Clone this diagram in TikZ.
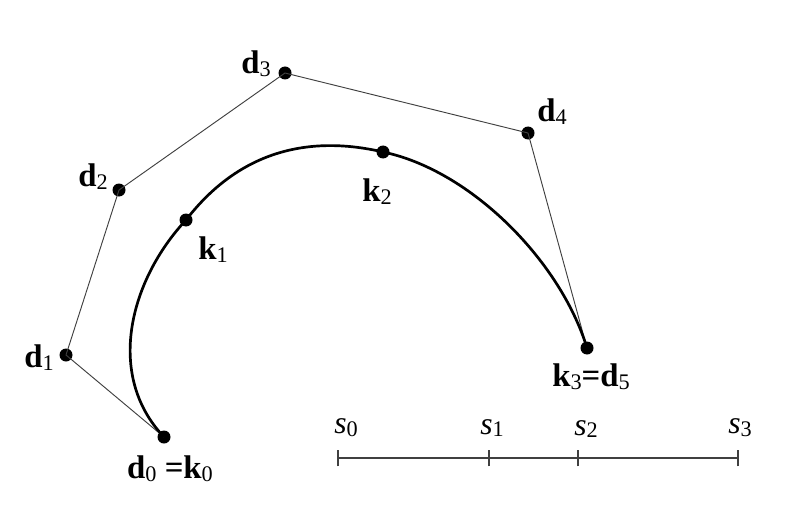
\documentclass[tikz,border=0pt]{standalone}
\usepackage{fontspec}
\setmainfont{Liberation Serif}
\usetikzlibrary{positioning}
\tikzset{
  ctrl_pt/.style={circle, fill=black, inner sep=0pt, minimum size=0.39cm},
  ctrl_poly/.style={-, draw=black!75, line width=0.8pt},
  spline/.style={-, draw=black, line width=2.3pt},
  scale_line/.style={-, draw=black!75, line width=1.1pt},
  pt_label/.style={font=\fontsize{28}{32}\selectfont\bfseries, inner sep=0pt},
  par_label/.style={font=\fontsize{27}{31}\selectfont, inner sep=0pt}
}
\newcommand{\lbl}[2]{#1\raisebox{-0.2ex}{\mdseries\upshape\fontsize{19}{22}\selectfont #2}}

\begin{document}
\begin{tikzpicture}[x=0.03cm, y=-0.03cm]
  \useasboundingbox (0,0) rectangle (791,508);

  % --- 1. Control points d0..d5 (d0 = k0, d5 = k3) ---
  \node[ctrl_pt] (d0) at (164, 437) {};
  \node[ctrl_pt] (d1) at (66, 355) {};
  \node[ctrl_pt] (d2) at (119, 190) {};
  \node[ctrl_pt] (d3) at (285, 73) {};
  \node[ctrl_pt] (d4) at (528, 133) {};
  \node[ctrl_pt] (d5) at (587, 348) {};

  % --- 2. Inner knots on the curve ---
  \node[ctrl_pt] (k1) at (186, 220) {};
  \node[ctrl_pt] (k2) at (383, 152) {};

  % --- 3. Control polygon (thin) ---
  \draw[ctrl_poly] (d0.center) -- (d1.center) -- (d2.center) -- (d3.center)
    -- (d4.center) -- (d5.center);

  % --- 4. The spline itself (thick) ---
  \draw[spline] (d0.center) .. controls (105, 375) and (130, 280) .. (k1.center)
    .. controls (240, 150) and (310, 135) .. (k2.center)
    .. controls (470, 170) and (560, 260) .. (d5.center);

  % --- 5. Point labels ---
  \node[pt_label] (ld0) at (170, 469) {\lbl{d}{0} =\lbl{k}{0}};
  \node[pt_label] (ld1) at (39, 358) {\lbl{d}{1}};
  \node[pt_label] (ld2) at (93, 177) {\lbl{d}{2}};
  \node[pt_label] (ld3) at (256, 64) {\lbl{d}{3}};
  \node[pt_label] (ld4) at (552, 112) {\lbl{d}{4}};
  \node[pt_label] (lk1) at (213, 250) {\lbl{k}{1}};
  \node[pt_label] (lk2) at (377, 192) {\lbl{k}{2}};
  \node[pt_label] (ld5) at (591, 377) {\lbl{k}{3}=\lbl{d}{5}};

  % --- 6. Parameter scale s0..s3 ---
  \foreach \i/\x in {0/338, 1/489, 2/578, 3/738} {
    \coordinate (t\i) at (\x, 458);
    \draw[scale_line] ([yshift=-0.25cm]t\i) -- ([yshift=0.25cm]t\i);
  }
  \draw[scale_line] (t0) -- (t1) -- (t2) -- (t3);

  \node[par_label] (s0) at (346, 428) {\lbl{\textit{s}}{0}};
  \node[par_label] (s1) at (492, 428) {\lbl{\textit{s}}{1}};
  \node[par_label] (s2) at (586, 429) {\lbl{\textit{s}}{2}};
  \node[par_label] (s3) at (740, 428) {\lbl{\textit{s}}{3}};
\end{tikzpicture}
\end{document}
